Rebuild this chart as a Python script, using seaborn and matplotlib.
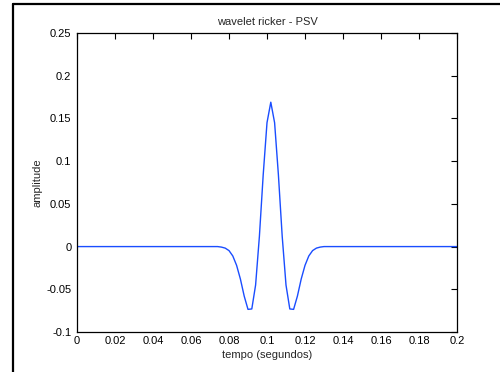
import numpy as np
import matplotlib
matplotlib.use("Agg")
import matplotlib.pyplot as plt
from matplotlib.lines import Line2D
from matplotlib.ticker import FuncFormatter
import seaborn as sns

# ---- data ----
time = np.round(np.linspace(0.0, 0.2, 101), 4)          # dt = 0.002 s
pulse = [-0.0006, -0.0018, -0.0047, -0.011, -0.022, -0.038, -0.058,
         -0.0735, -0.073, -0.045, 0.012, 0.084, 0.145, 0.169,
         0.145, 0.084, 0.012, -0.045, -0.073, -0.0735, -0.058,
         -0.038, -0.022, -0.011, -0.0047, -0.0018, -0.0006]
amplitude = [0.0] * 38 + pulse + [0.0] * 36

x_ticks = [0, 0.02, 0.04, 0.06, 0.08, 0.1, 0.12, 0.14, 0.16, 0.18, 0.2]
y_ticks = [-0.1, -0.05, 0, 0.05, 0.1, 0.15, 0.2, 0.25]
title = "wavelet ricker - PSV"
xlabel = "tempo (segundos)"
ylabel = "amplitude"

# ---- style ----
sns.set_style("white")
plt.rcParams["font.family"] = ["Liberation Sans", "DejaVu Sans"]
plt.rcParams["axes.unicode_minus"] = False

fig = plt.figure(figsize=(5.0, 3.72), dpi=100)
ax = fig.add_axes([0.154, 0.1075, 0.760, 0.8038])

sns.lineplot(x=time, y=amplitude, ax=ax, color="#1a4dff", linewidth=1.0,
             estimator=None, sort=False)

ax.set_xlim(0, 0.2)
ax.set_ylim(-0.1, 0.25)
ax.set_xticks(x_ticks)
ax.set_yticks(y_ticks)
fmt = FuncFormatter(lambda v, p: f"{v:g}")
ax.xaxis.set_major_formatter(fmt)
ax.yaxis.set_major_formatter(fmt)
ax.tick_params(direction="in", length=4, width=0.8, top=True, right=True,
               labelsize=8, colors="black", pad=4)
ax.tick_params(axis="x", pad=3)
for s in ax.spines.values():
    s.set_visible(True)
    s.set_color("black")
    s.set_linewidth(0.9)

ax.set_title(title, fontsize=8, pad=6)
ax.set_xlabel(xlabel, fontsize=8, labelpad=3)
ax.set_ylabel(ylabel, fontsize=8, labelpad=3)

# outer frame lines (top and left) of the screenshot
fig.add_artist(Line2D([0.025, 1.0], [0.988, 0.988], transform=fig.transFigure,
                      color="black", linewidth=1.6))
fig.add_artist(Line2D([0.025, 0.025], [0.0, 0.988], transform=fig.transFigure,
                      color="black", linewidth=1.6))

fig.savefig("out.png", dpi=100)
